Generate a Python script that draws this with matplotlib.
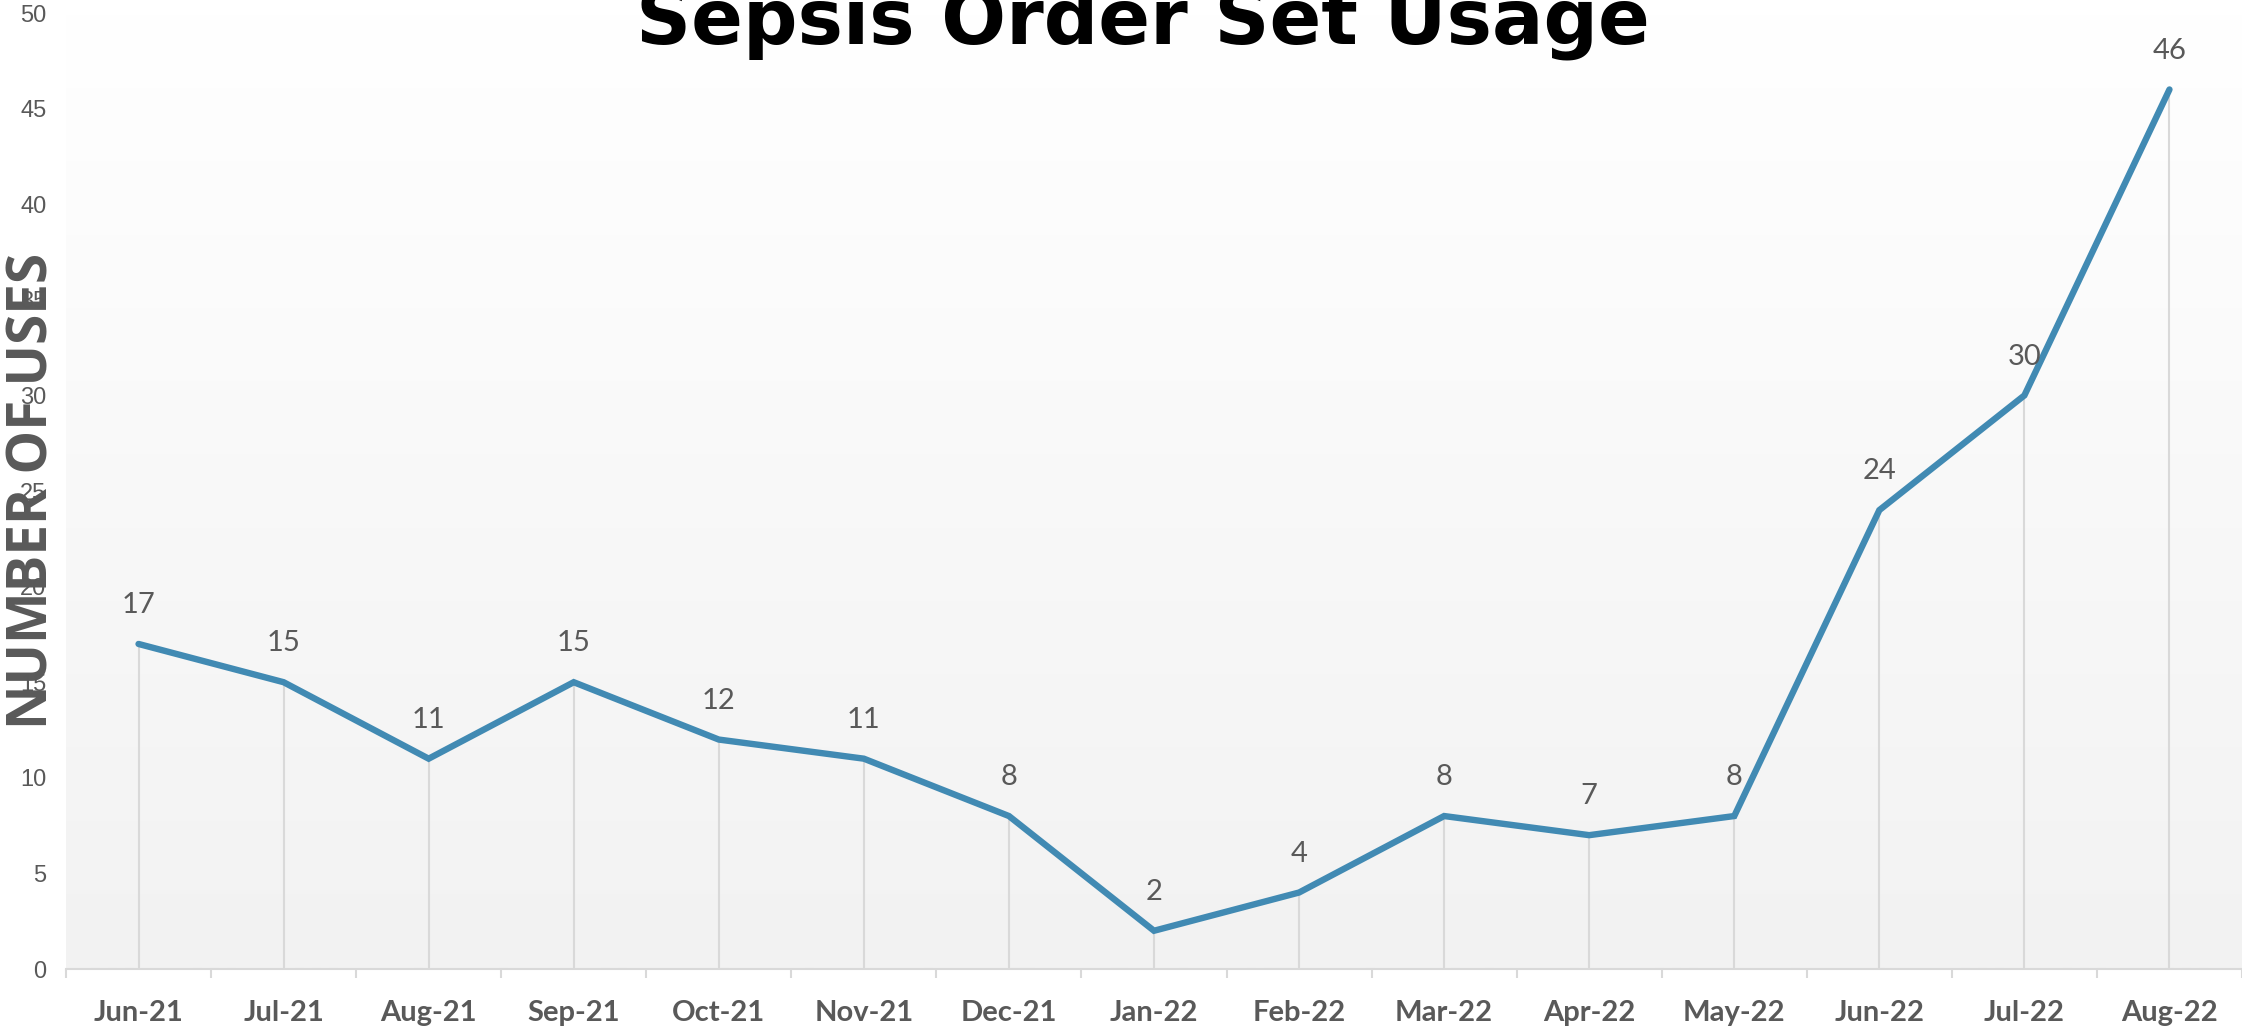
import matplotlib
matplotlib.use("Agg")
import matplotlib.pyplot as plt
import numpy as np

months = ["Jun-21", "Jul-21", "Aug-21", "Sep-21", "Oct-21", "Nov-21", "Dec-21",
          "Jan-22", "Feb-22", "Mar-22", "Apr-22", "May-22", "Jun-22", "Jul-22", "Aug-22"]
uses = [17, 15, 11, 15, 12, 11, 8, 2, 4, 8, 7, 8, 24, 30, 46]
y_ticks = [0, 5, 10, 15, 20, 25, 30, 35, 40, 45, 50]
title = "Sepsis Order Set Usage"
y_label = "NUMBER OF USES"

W, H = 2242, 1027
fig = plt.figure(figsize=(W / 100, H / 100), dpi=100)
fig.patch.set_facecolor("white")

left_px, right_px, bottom_px, top_px = 66, 2242, 969, 13
ax = fig.add_axes([left_px / W, (H - bottom_px) / H,
                   (right_px - left_px) / W, (bottom_px - top_px) / H])

x = np.arange(len(months))

# gradient background
grad = np.linspace(1.0, 0.0, 256).reshape(-1, 1)
top_c = np.array([1.0, 1.0, 1.0])
bot_c = np.array([0xf2, 0xf2, 0xf2]) / 255.0
img = top_c * grad[..., None] + bot_c * (1 - grad[..., None])
ax.imshow(img, extent=[0, 1, 0, 1], transform=ax.transAxes, aspect="auto",
          zorder=0, interpolation="bilinear")
ax.set_facecolor("white")
ax.set_xlim(-0.5, len(months) - 0.5)
ax.set_ylim(0, 50)

# drop lines
ax.vlines(x, 0, uses, color="#d9d9d9", linewidth=1.5, zorder=1)
# main line
ax.plot(x, uses, color="#418AB3", linewidth=4.6, solid_capstyle="round",
        solid_joinstyle="miter", zorder=3)

for xi, v in zip(x, uses):
    ax.annotate(str(v), (xi, v), xytext=(0, 28), textcoords="offset points",
                ha="center", va="center", fontsize=21, family="Lato",
                color="#595959", zorder=4)

for s in ["top", "right", "left"]:
    ax.spines[s].set_visible(False)
ax.spines["bottom"].set_color("#d9d9d9")
ax.spines["bottom"].set_linewidth(1.5)

ax.set_xticks(x)
ax.set_xticklabels(months, fontsize=21, family="Lato", fontweight="bold",
                   color="#595959")
ax.tick_params(axis="x", which="major", length=0, pad=22)
ax.set_xticks(np.arange(-0.5, len(months), 1.0), minor=True)
ax.tick_params(axis="x", which="minor", length=6.5, width=1.5, color="#d9d9d9",
               direction="out")

ax.set_yticks(y_ticks)
ax.set_yticklabels([str(t) for t in y_ticks], fontsize=17,
                   family="Liberation Sans", color="#595959")
ax.tick_params(axis="y", length=0, pad=14)

fig.text(33 / W, 1 - 491 / H, y_label, rotation=90, ha="center", va="center",
         fontsize=39.5, family="Open Sans", fontweight="bold", color="#595959")

fig.text(1143 / W, 1 - 43 / H, title, ha="center", va="baseline",
         fontsize=55, family="DejaVu Sans", fontweight="bold", color="black")

fig.savefig("out.png", dpi=100, facecolor="white")
